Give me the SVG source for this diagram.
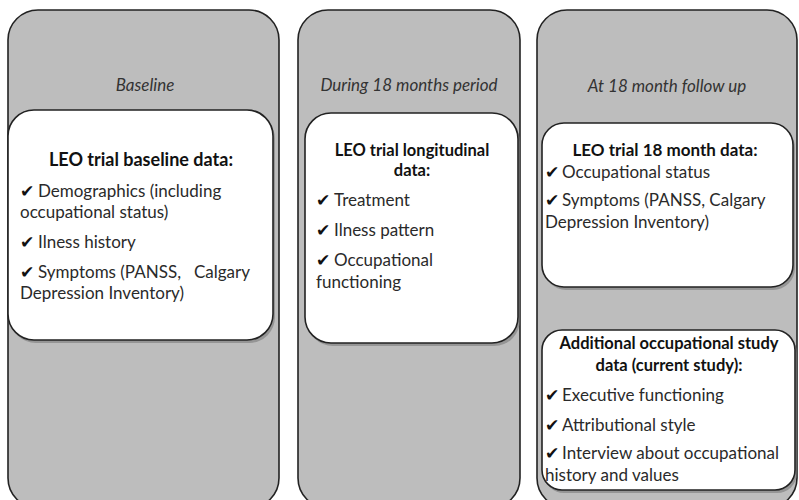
<svg xmlns="http://www.w3.org/2000/svg" width="799" height="500" viewBox="0 0 799 500">
<style>
.panel{fill:#bdbdbd;stroke:#222;stroke-width:1.6}
.box{fill:#fff;stroke:#222;stroke-width:1.6}
.shadow{fill:#7a7a7a;opacity:0.6}
.phase{font-family:Lato,"Open Sans",sans-serif;font-style:italic;font-size:17px;fill:#333;text-anchor:middle}
.head{font-family:Lato,"Open Sans",sans-serif;font-weight:bold;font-size:16.5px;fill:#111;text-anchor:middle}
.item{font-family:Lato,"Open Sans",sans-serif;font-size:17px;fill:#2a2a2a}
.ck{font-family:"DejaVu Sans",sans-serif;font-size:17px;fill:#111}
</style>
<rect width="799" height="500" fill="#fff"/>
<g id="panel-baseline">
<rect class="panel" x="8" y="10" width="271" height="498" rx="30"/>
<text class="phase" x="145" y="91">Baseline</text>
</g>
<g id="panel-during">
<rect class="panel" x="298" y="10" width="222" height="498" rx="30"/>
<text class="phase" x="409" y="91">During 18 months period</text>
</g>
<g id="panel-followup">
<rect class="panel" x="537" y="10" width="260" height="498" rx="30"/>
<text class="phase" x="667" y="92">At 18 month follow up</text>
</g>
<g id="box-baseline">
<rect class="shadow" x="10" y="113" width="265" height="230" rx="26"/>
<rect class="box" x="8" y="110" width="265" height="230" rx="26"/>
<text class="head" x="141" y="166" style="font-size:18px">LEO trial baseline data:</text>
<text class="item" y="197"><tspan class="ck" x="20">✔</tspan><tspan x="38">Demographics (including</tspan></text>
<text class="item" x="20" y="218">occupational status)</text>
<text class="item" y="248"><tspan class="ck" x="20">✔</tspan><tspan x="38">Ilness history</tspan></text>
<text class="item" y="278"><tspan class="ck" x="20">✔</tspan><tspan x="38">Symptoms (PANSS,</tspan></text>
<text class="item" x="250" y="278" text-anchor="end">Calgary</text>
<text class="item" x="20" y="299">Depression Inventory)</text>
</g>
<g id="box-longitudinal">
<rect class="shadow" x="307" y="116" width="213" height="230" rx="26"/>
<rect class="box" x="305" y="113" width="213" height="230" rx="26"/>
<text class="head" x="412" y="156">LEO trial longitudinal</text>
<text class="head" x="412" y="176">data:</text>
<text class="item" y="206"><tspan class="ck" x="316">✔</tspan><tspan x="334">Treatment</tspan></text>
<text class="item" y="236"><tspan class="ck" x="316">✔</tspan><tspan x="334">Ilness pattern</tspan></text>
<text class="item" y="266"><tspan class="ck" x="316">✔</tspan><tspan x="334">Occupational</tspan></text>
<text class="item" x="316" y="288">functioning</text>
</g>
<g id="box-18month">
<rect class="shadow" x="544" y="126" width="251" height="164" rx="22"/>
<rect class="box" x="542" y="123" width="251" height="164" rx="22"/>
<text class="head" x="665" y="156" style="font-size:17px">LEO trial 18 month data:</text>
<text class="item" y="178"><tspan class="ck" x="545">✔</tspan><tspan x="562">Occupational status</tspan></text>
<text class="item" y="206"><tspan class="ck" x="545">✔</tspan><tspan x="562">Symptoms (PANSS, Calgary</tspan></text>
<text class="item" x="545" y="228">Depression Inventory)</text>
</g>
<g id="box-additional">
<rect class="shadow" x="544" y="333" width="253" height="160" rx="20"/>
<rect class="box" x="542" y="330" width="253" height="160" rx="20"/>
<text class="head" x="669" y="349">Additional occupational study</text>
<text class="head" x="669" y="371">data (current study):</text>
<text class="item" y="401"><tspan class="ck" x="545">✔</tspan><tspan x="562">Executive functioning</tspan></text>
<text class="item" y="431"><tspan class="ck" x="545">✔</tspan><tspan x="562">Attributional style</tspan></text>
<text class="item" y="459"><tspan class="ck" x="545">✔</tspan><tspan x="562">Interview about occupational</tspan></text>
<text class="item" x="545" y="481">history and values</text>
</g>
<g id="connectors"></g>
</svg>
